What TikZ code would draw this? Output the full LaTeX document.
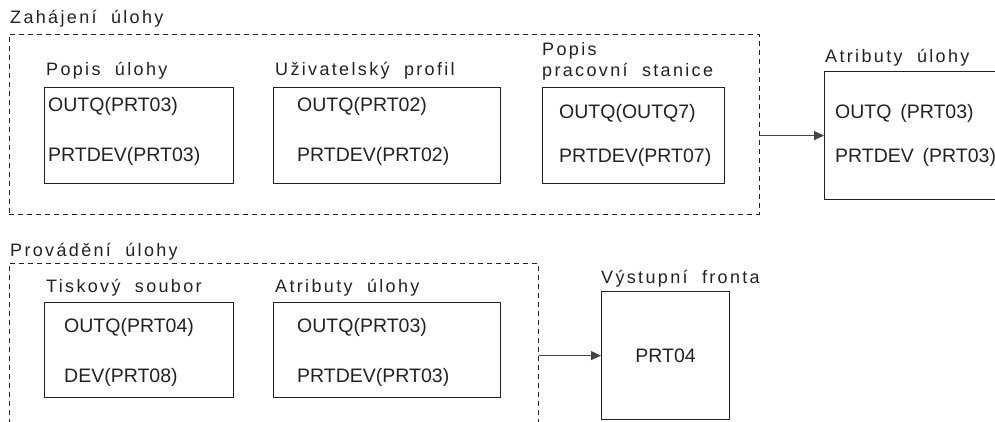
\documentclass[tikz,border=0pt]{standalone}
\usepackage{fontspec}
\setmainfont{Liberation Sans}
\newfontfamily\lblfont[LetterSpace=13]{Liberation Sans}
\usetikzlibrary{arrows.meta}
\definecolor{ink}{HTML}{222222}
\newcommand{\wsp}{\hspace{0.8em}}
\tikzset{
  x=1pt, y=-1pt,
  grp/.style={draw=ink, line width=0.9pt, dash pattern=on 5pt off 4pt, inner sep=0pt, anchor=north west},
  box/.style={draw=ink, line width=1.2pt, inner sep=0pt, anchor=north west},
  lbl/.style={anchor=base west, inner sep=0pt, text=ink, font=\lblfont\fontsize{18}{21}\selectfont},
  val/.style={anchor=base west, inner sep=0pt, text=ink, font=\fontsize{19.5}{23}\selectfont},
  conn/.style={draw=ink!85, line width=1pt, -{Triangle[length=10pt,width=9pt]}},
}
\begin{document}
\begin{tikzpicture}
\useasboundingbox (0,0) rectangle (995,422);
\clip (0,0) rectangle (995,422);
% top group
\node[lbl] (tz) at (10,24) {Zahájení\wsp úlohy};
\node[grp, minimum width=750pt, minimum height=180pt] (zah) at (9,34) {};
\node[lbl] (l1) at (46,76) {Popis\wsp úlohy};
\node[box, minimum width=189pt, minimum height=96pt] (b1) at (44,87) {};
\node[val] (b1a) at (48,112) {OUTQ(PRT03)};
\node[val] (b1b) at (48,162) {PRTDEV(PRT03)};
\node[lbl] (l2) at (275,76) {Uživatelský\wsp profil};
\node[box, minimum width=227pt, minimum height=96pt] (b2) at (273,87) {};
\node[val] (b2a) at (297,112) {OUTQ(PRT02)};
\node[val] (b2b) at (297,162) {PRTDEV(PRT02)};
\node[lbl] (l3a) at (542,56) {Popis};
\node[lbl] (l3b) at (542,77) {pracovní\wsp stanice};
\node[box, minimum width=182pt, minimum height=96pt] (b3) at (542,87) {};
\node[val] (b3a) at (559,119) {OUTQ(OUTQ7)};
\node[val] (b3b) at (559,163) {PRTDEV(PRT07)};
% right attribute box
\node[lbl] (l4) at (825,63) {Atributy\wsp úlohy};
\node[box, minimum width=200pt, minimum height=128pt] (ab) at (824,71) {};
\node[val] (aba) at (835,119) {OUTQ\hspace{0.45em}(PRT03)};
\node[val] (abb) at (835,163) {PRTDEV\hspace{0.45em}(PRT03)};
\draw[conn] (zah.east |- ab.west) -- (ab.west);
% bottom group
\node[lbl] (tp) at (10,256) {Provádění\wsp úlohy};
\node[grp, minimum width=529pt, minimum height=190pt] (pro) at (9,263) {};
\node[lbl] (l5) at (46,292) {Tiskový\wsp soubor};
\node[box, minimum width=189pt, minimum height=95pt] (b5) at (44,302) {};
\node[val] (b5a) at (64,332) {OUTQ(PRT04)};
\node[val] (b5b) at (64,382) {DEV(PRT08)};
\node[lbl] (l6) at (275,292) {Atributy\wsp úlohy};
\node[box, minimum width=227pt, minimum height=95pt] (b6) at (273,302) {};
\node[val] (b6a) at (297,332) {OUTQ(PRT03)};
\node[val] (b6b) at (297,382) {PRTDEV(PRT03)};
\node[lbl] (l7) at (601,283) {Výstupní\wsp fronta};
\node[box, minimum width=128pt, minimum height=128pt] (vf) at (601,291) {};
\node[text=ink, font=\fontsize{19.5}{23}\selectfont, inner sep=0pt] (vft) at (vf.center) {PRT04};
\draw[conn] (pro.east |- vf.west) -- (vf.west);
\end{tikzpicture}
\end{document}
